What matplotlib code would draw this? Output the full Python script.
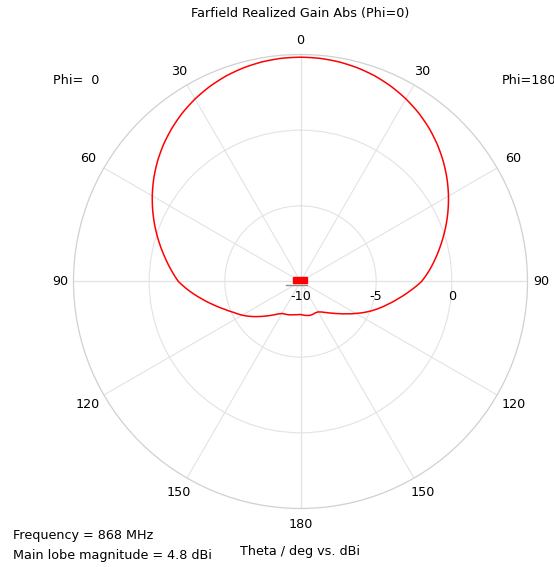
import numpy as np
import matplotlib
matplotlib.use("Agg")
import matplotlib.pyplot as plt
from matplotlib.patches import Rectangle, PathPatch
from matplotlib.lines import Line2D
from matplotlib.path import Path

# Farfield cut, realized gain in dBi, theta in degrees
theta_deg = list(range(0, 181, 5))
gain_phi0 = [4.82, 4.80, 4.73, 4.61, 4.44, 4.21, 3.93, 3.60, 3.22, 2.80,
             2.34, 1.84, 1.31, 0.76, 0.20, -0.36, -0.91, -1.43, -1.93, -2.65,
             -3.38, -4.05, -4.65, -5.15, -5.55, -5.98, -6.40, -6.78, -7.10, -7.38,
             -7.56, -7.62, -7.66, -7.72, -7.77, -7.80, -7.82]
gain_phi180 = [4.82, 4.80, 4.73, 4.61, 4.44, 4.21, 3.93, 3.60, 3.22, 2.79,
               2.32, 1.82, 1.29, 0.74, 0.18, -0.38, -0.92, -1.45, -2.00, -2.75,
               -3.45, -4.08, -4.65, -5.22, -5.78, -6.28, -6.70, -7.04, -7.32, -7.54,
               -7.68, -7.71, -7.68, -7.68, -7.72, -7.77, -7.82]

r_min, r_max = -10, 5
ring_levels = [-5, 0]
ring_labels = ["-10", "-5", "0"]
angle_ticks = [0, 30, 60, 90, 120, 150, 180]
angle_label_r = [5.95, 6.05, 6.2, 5.9, 6.25, 6.1, 6.05]

FS = 9.2
plt.rcParams['font.family'] = ['DejaVu Sans']
fig = plt.figure(figsize=(5.54, 5.67), dpi=100)
ax = fig.add_axes([0.13267, 0.1032, 0.8195, 0.8007], projection='polar')
ax.set_theta_zero_location('N')
ax.set_theta_direction(-1)
ax.set_ylim(r_min, r_max)

# Phi=180 on the right half (0..180 deg), Phi=0 mirrored onto the left half (180..360 deg)
th_right = np.deg2rad(theta_deg)
th_left = 2 * np.pi - np.deg2rad(theta_deg[::-1])
ang = np.concatenate([th_right, th_left])
val = np.concatenate([gain_phi180, gain_phi0[::-1]])
# drawn as a path so the polar transform curves each segment
curve = Path(np.column_stack([ang, val]), _interpolation_steps=12)
ax.add_patch(PathPatch(curve, facecolor='none', edgecolor='#ff0000', lw=1.1,
                       zorder=5, joinstyle='round'))

# grid
ax.set_rgrids(ring_levels, labels=[])
ax.set_thetagrids(np.arange(0, 360, 30), labels=[])
ax.grid(True, color='#e3e3e3', lw=0.8)
ax.spines['polar'].set_color('#d0d0d0')
ax.spines['polar'].set_linewidth(0.9)
ax.tick_params(length=0)
for a in [0, 90, 180, 270]:
    ax.plot([np.deg2rad(a), np.deg2rad(a)], [r_min, r_max], color='#cfcfcf', lw=0.8, zorder=1)
ax.set_ylim(r_min, r_max)

# angle labels around the outside
for t, lr in zip(angle_ticks, angle_label_r):
    for s in ([1, -1] if t not in (0, 180) else [1]):
        ax.text(np.deg2rad(s * t), lr, str(t), ha='center', va='center',
                fontsize=FS, clip_on=False)

# radial labels along the 90 deg spoke
for rv, lab in zip([r_min] + ring_levels, ring_labels):
    ax.annotate(lab, xy=(np.deg2rad(90), rv), xytext=(0, -10.6), textcoords='offset points',
                ha='center', va='center', fontsize=FS)

# antenna marker at the centre
W, H = 554, 567
fig.patches.append(Rectangle((293.3 / W, 1 - 283.3 / H), 14 / W, 6 / H,
                             transform=fig.transFigure, color='#ff0000', zorder=10))
fig.lines.append(Line2D([286 / W, 307 / W], [1 - 284.5 / H, 1 - 284.5 / H],
                        transform=fig.transFigure, color='#909090', lw=1.0, zorder=9))

fig.text(300 / W, 1 - 13 / H, "Farfield Realized Gain Abs (Phi=0)", ha='center', va='center', fontsize=FS)
fig.text(53 / W, 1 - 81 / H, "Phi=  0", ha='left', va='center', fontsize=FS)
fig.text(502 / W, 1 - 81 / H, "Phi=180", ha='left', va='center', fontsize=FS)
fig.text(13 / W, 1 - 535 / H, "Frequency = 868 MHz", ha='left', va='center', fontsize=FS)
fig.text(13 / W, 1 - 556 / H, "Main lobe magnitude = 4.8 dBi", ha='left', va='center', fontsize=FS)
fig.text(300 / W, 1 - 552 / H, "Theta / deg vs. dBi", ha='center', va='center', fontsize=FS)

fig.savefig("out.png", dpi=100)
